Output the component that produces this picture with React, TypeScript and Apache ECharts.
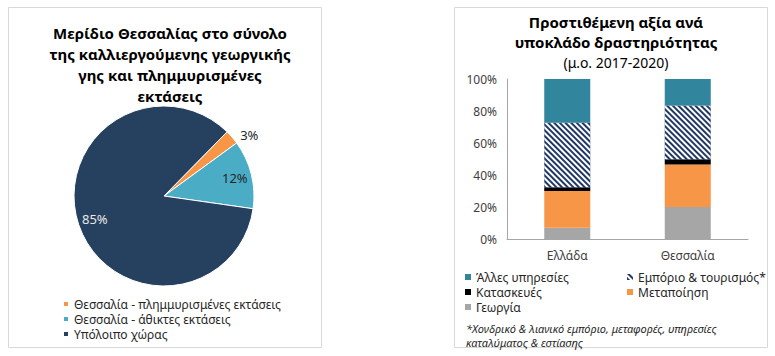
import React, { useEffect, useRef } from "react";
import * as echarts from "echarts";

const pieNames = [
  "Θεσσαλία - πλημμυρισμένες εκτάσεις",
  "Θεσσαλία - άθικτες εκτάσεις",
  "Υπόλοιπο χώρας",
];
const pieValues = [2.6, 12.3, 85.1];
const pieColors = ["#F79646", "#4BACC6", "#26405F"];

const barCategories = ["Ελλάδα", "Θεσσαλία"];
const georgia = [7, 20];
const metapoiisi = [23, 26.5];
const kataskeves = [2.4, 3.3];
const emporio = [40.2, 33.6];
const alles = [27.4, 16.6];
const barNames = ["Γεωργία", "Μεταποίηση", "Κατασκευές", "Εμπόριο & τουρισμός*", "Άλλες υπηρεσίες"];
const barColors = ["#A6A6A6", "#F79646", "#000000", "#1F3864", "#31859C"];

const FONT = "Noto Sans";

export default function App() {
  const ref = useRef<HTMLDivElement>(null);
  useEffect(() => {
    if (!ref.current) return;
    const chart = echarts.init(ref.current, null, { renderer: "svg" });
    const hatch = {
      symbol: "rect",
      symbolSize: 1,
      color: "#ffffff",
      dashArrayX: [1, 0],
      dashArrayY: [2, 2],
      rotation: Math.PI / 4,
    };
    const barSeries = [georgia, metapoiisi, kataskeves, emporio, alles].map((vals, i) => ({
      type: "bar",
      name: barNames[i],
      stack: "total",
      xAxisIndex: 0,
      yAxisIndex: 0,
      barWidth: 46,
      data: vals,
      itemStyle: i === 3 ? { color: barColors[i], decal: hatch } : { color: barColors[i] },
    }));
    const legendText = { fontFamily: FONT, fontSize: 12, color: "#262626" };
    const option: any = {
      animation: false,
      textStyle: { fontFamily: FONT },
      graphic: [
        {
          type: "rect",
          shape: { x: 8.5, y: 7.5, width: 313, height: 340 },
          style: { fill: "none", stroke: "#D9D9D9", lineWidth: 1 },
          z: -1,
        },
        {
          type: "rect",
          shape: { x: 454.5, y: 7.5, width: 313, height: 340 },
          style: { fill: "none", stroke: "#D9D9D9", lineWidth: 1 },
          z: -1,
        },
      ],
      title: [
        {
          text: "Μερίδιο Θεσσαλίας στο σύνολο\nτης καλλιεργούμενης γεωργικής\nγης και πλημμυρισμένες\nεκτάσεις",
          left: 165,
          top: 17,
          textAlign: "center",
          textStyle: { fontFamily: FONT, fontSize: 15, fontWeight: "bold", color: "#000", lineHeight: 21 },
        },
        {
          text: "Προστιθέμενη αξία ανά\nυποκλάδο δραστηριότητας",
          subtext: "(μ.ο. 2017-2020)",
          left: 611,
          top: 7,
          itemGap: 0,
          textAlign: "center",
          textStyle: { fontFamily: FONT, fontSize: 15, fontWeight: "bold", color: "#000", lineHeight: 20 },
          subtextStyle: { fontFamily: FONT, fontSize: 14, color: "#000", lineHeight: 20 },
        },
        {
          text: "*Χονδρικό & λιανικό εμπόριο, μεταφορές, υπηρεσίες\nκαταλύματος & εστίασης",
          left: 466,
          top: 321,
          padding: 0,
          textStyle: { fontFamily: FONT, fontSize: 11, fontStyle: "italic", fontWeight: "normal", color: "#262626", lineHeight: 14 },
        },
      ],
      legend: [
        {
          data: pieNames,
          orient: "vertical",
          left: 62,
          top: 298,
          padding: 0,
          itemWidth: 6,
          itemHeight: 6,
          itemGap: 3,
          icon: "rect",
          textStyle: legendText,
        },
        {
          data: ["Άλλες υπηρεσίες", "Κατασκευές", "Γεωργία"],
          orient: "vertical",
          left: 465,
          top: 271,
          padding: 0,
          itemWidth: 6,
          itemHeight: 6,
          itemGap: 3,
          icon: "rect",
          textStyle: legendText,
        },
        {
          data: ["Εμπόριο & τουρισμός*", "Μεταποίηση"],
          orient: "vertical",
          left: 627,
          top: 271,
          padding: 0,
          itemWidth: 6,
          itemHeight: 6,
          itemGap: 3,
          icon: "rect",
          textStyle: legendText,
        },
      ],
      grid: [{ left: 507, width: 241, top: 79, height: 160 }],
      xAxis: [
        {
          type: "category",
          gridIndex: 0,
          data: barCategories,
          axisLine: { lineStyle: { color: "#A6A6A6", width: 1 } },
          axisTick: { show: false },
          axisLabel: { fontFamily: FONT, fontSize: 12, color: "#404040", margin: 10 },
        },
      ],
      yAxis: [
        {
          type: "value",
          gridIndex: 0,
          min: 0,
          max: 100,
          interval: 20,
          axisLine: { show: true, lineStyle: { color: "#A6A6A6", width: 1 } },
          axisTick: { show: false },
          splitLine: { show: false },
          axisLabel: { fontFamily: FONT, fontSize: 12, color: "#404040", margin: 10, formatter: "{value}%" },
        },
      ],
      series: [
        {
          type: "pie",
          name: "pie",
          center: [164, 196],
          radius: [0, 90],
          startAngle: 45.5,
          clockwise: true,
          avoidLabelOverlap: false,
          itemStyle: { borderColor: "#ffffff", borderWidth: 1 },
          labelLine: { show: false, length: 4, length2: 0 },
          data: pieNames.map((n, i) => ({
            name: n,
            value: pieValues[i],
            itemStyle: { color: pieColors[i] },
            label:
              i === 0
                ? {
                    show: true,
                    position: "outside",
                    formatter: (p: any) => Math.round(p.percent) + "%",
                    fontFamily: FONT,
                    fontSize: 13,
                    color: "#262626",
                  }
                : { show: false },
          })),
        },
        {
          type: "pie",
          name: "pielabels",
          silent: true,
          center: [164, 196],
          radius: [50, 90],
          startAngle: 45.5,
          clockwise: true,
          avoidLabelOverlap: false,
          labelLine: { show: false },
          itemStyle: { color: "rgba(0,0,0,0)" },
          data: pieNames.map((n, i) => ({
            name: n,
            value: pieValues[i],
            itemStyle: { color: "rgba(0,0,0,0)" },
            label:
              i === 0
                ? { show: false }
                : {
                    show: true,
                    position: "inside",
                    formatter: (p: any) => Math.round(p.percent) + "%",
                    fontFamily: FONT,
                    fontSize: 13,
                    color: i === 2 ? "#E8E8E8" : "#262626",
                  },
          })),
        },
        ...barSeries,
      ],
    };
    chart.setOption(option);
    return () => chart.dispose();
  }, []);
  return (
    <div
      ref={ref}
      style={{ position: "fixed", left: 0, top: 0, width: 775, height: 356, background: "#fff" }}
    />
  );
}
